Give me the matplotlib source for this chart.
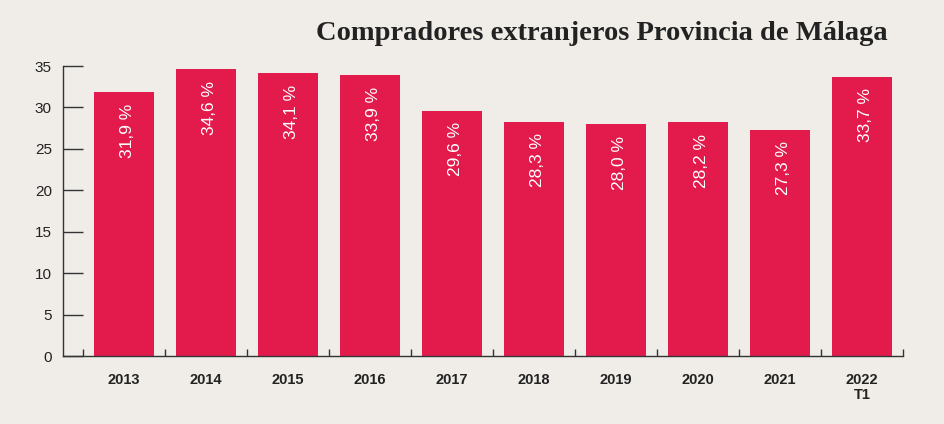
import matplotlib.pyplot as plt

# Datos: compradores extranjeros (%) en la provincia de Málaga
years = ['2013', '2014', '2015', '2016', '2017', '2018', '2019', '2020', '2021', '2022\nT1']
values = [31.9, 34.6, 34.1, 33.9, 29.6, 28.3, 28.0, 28.2, 27.3, 33.7]

bg = '#f0ede8'
bar_color = '#e31b4d'
axis_color = '#333333'

fig = plt.figure(figsize=(9.45, 4.24), dpi=100, facecolor=bg)
ax = fig.add_axes([63 / 945, 1 - 356 / 424, (903 - 63) / 945, (356 - 66) / 424])
ax.set_facecolor(bg)

x = list(range(len(years)))
bars = ax.bar(x, values, width=0.72, color=bar_color, zorder=2)

# etiquetas rotadas dentro de cada barra
for xi, v in zip(x, values):
    label = f'{v:.1f}'.replace('.', ',') + ' %'
    ax.text(xi + 0.04, v - 1.4, label, rotation=90, ha='center', va='top',
            color='white', fontsize=12.5, family='Liberation Sans', zorder=3)

ax.set_xlim(-0.744, len(years) - 0.5)
ax.set_ylim(0, 35)

for s in ['top', 'right']:
    ax.spines[s].set_visible(False)
for s in ['left', 'bottom']:
    ax.spines[s].set_color(axis_color)
    ax.spines[s].set_linewidth(1)

ax.set_yticks(range(0, 36, 5))
ax.tick_params(axis='y', direction='in', length=14.5, width=1, color=axis_color,
               labelsize=11, labelcolor='#222222', pad=8)
for t in ax.get_yticklabels():
    t.set_family('Liberation Sans')

# ticks de separación entre categorías
ax.set_xticks([i - 0.5 for i in range(len(years) + 1)])
ax.set_xticklabels([])
ax.tick_params(axis='x', direction='in', length=5, width=1, color=axis_color)
for xi, yr in zip(x, years):
    ax.text(xi, -2.0, yr, ha='center', va='top', fontsize=10.5, fontweight='bold',
            color='#222222', family='Liberation Sans', linespacing=1.1)

fig.text(888 / 945, 1 - 33 / 424, 'Compradores extranjeros Provincia de Málaga',
         ha='right', va='center', fontsize=20.5, fontweight='bold',
         family='Liberation Serif', color='#222222')

fig.savefig('out.png', dpi=100, facecolor=bg)
